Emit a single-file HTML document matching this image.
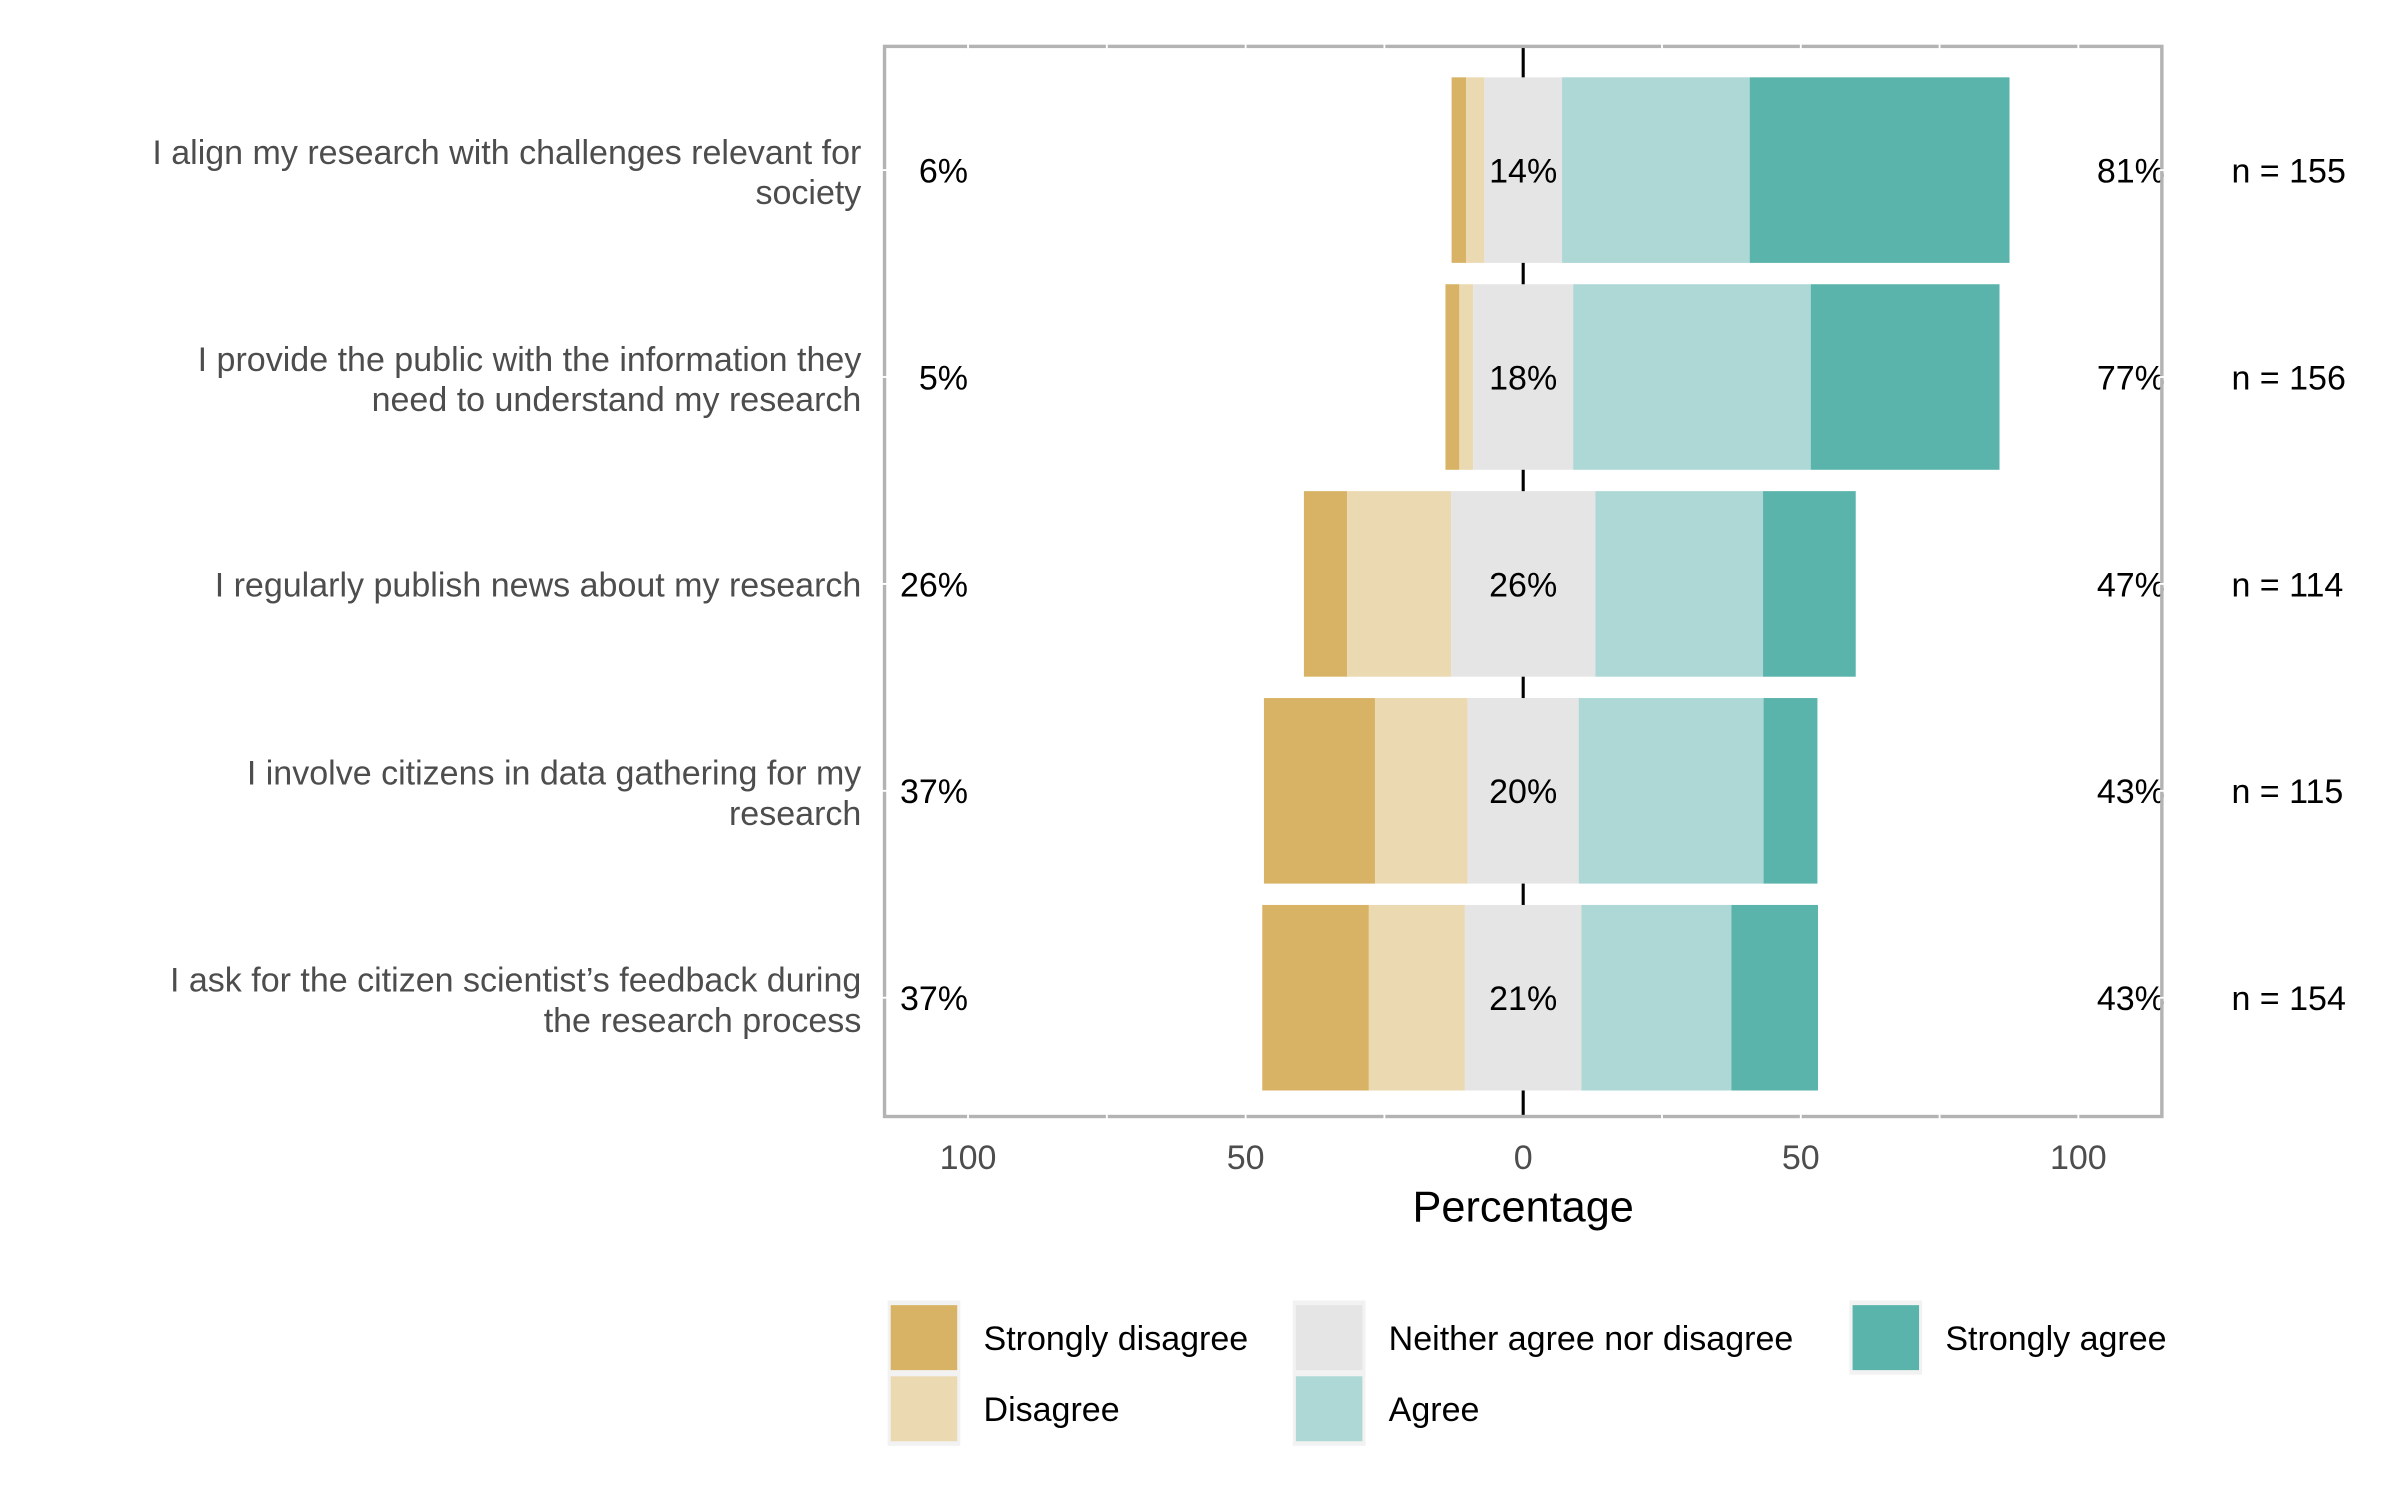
<!DOCTYPE html>
<html><head><meta charset="utf-8"><style>body{margin:0;background:#fff}svg{display:block}text{font-family:"Liberation Sans",Arial,sans-serif}</style></head>
<body>
<svg id="chart" width="2400" height="1500" viewBox="0 0 1552 970" xmlns="http://www.w3.org/2000/svg">
<rect width="1552" height="970" fill="#fff"/>
<g id="plot"></g>
</svg>
<script>
const categories = ["I align my research with challenges relevant for|society","I provide the public with the information they|need to understand my research","I regularly publish news about my research","I involve citizens in data gathering for my|research","I ask for the citizen scientist\u2019s feedback during|the research process"];
const stronglyDisagree = [2.6, 2.5, 7.8, 20, 19.2];
const disagree = [3.3, 2.5, 18.7, 16.7, 17.3];
const neutral = [14, 18, 26, 20, 21];
const agree = [33.8, 42.8, 30.2, 33.3, 27];
const stronglyAgree = [46.8, 34, 16.7, 9.7, 15.6];
const leftLabels = ["6%","5%","26%","37%","37%"];
const midLabels = ["14%","18%","26%","20%","21%"];
const rightLabels = ["81%","77%","47%","43%","43%"];
const nLabels = ["n = 155","n = 156","n = 114","n = 115","n = 154"];
const xTicks = [-100,-50,0,50,100];
const legendNames = ["Strongly disagree","Disagree","Neither agree nor disagree","Agree","Strongly agree"];
const colors = ["#d8b365","#ebd9b2","#e5e5e5","#add8d5","#5ab4ac"];

const NS="http://www.w3.org/2000/svg";
const g=document.getElementById('plot');
const X0=985, K=3.59, L=572, R=1398, T=30, B=722;
const xs=v=>X0+v*K;
const ys=i=>110+i*133.8;
function mk(tag,attrs,parent){const e=document.createElementNS(NS,tag);for(const k in attrs)e.setAttribute(k,attrs[k]);(parent||g).appendChild(e);return e;}

// center line
let cl=mk('line',{x1:X0,x2:X0,y1:T,y2:B,stroke:'#000','stroke-width':2});



const rowNames=['row-align','row-inform','row-publish','row-involve','row-feedback'];
categories.forEach((c,i)=>{
  const yc=ys(i), h=120;
  const left=-(stronglyDisagree[i]+disagree[i]+neutral[i]/2);
  const segs=[stronglyDisagree[i],disagree[i],neutral[i],agree[i],stronglyAgree[i]];
  const segNames=['strongly-disagree','disagree','neutral','agree','strongly-agree'];
  let cur=left;
  segs.forEach((v,j)=>{
    const r=mk('rect',{x:xs(cur),y:yc-h/2,width:v*K,height:h,fill:colors[j]});
    
    
    cur+=v;
  });
  const lines=c.split('|');
  const t=mk('text',{x:557,y:yc+(lines.length>1?-12+8:8),'text-anchor':'end','font-size':22,fill:'#4d4d4d'});
  
  
  lines.forEach((ln,k)=>{const s=mk('tspan',{x:557,dy:k?26:0},t);s.textContent=ln;});
  if(lines.length>1)t.setAttribute('y',yc-4);
  const a=mk('text',{x:626,y:yc+8,'text-anchor':'end','font-size':22,fill:'#000'});a.textContent=leftLabels[i];
  
  
  const m=mk('text',{x:X0,y:yc+8,'text-anchor':'middle','font-size':22,fill:'#000'});m.textContent=midLabels[i];
  
  
  const r2=mk('text',{x:1400,y:yc+8,'text-anchor':'end','font-size':22,fill:'#000'});r2.textContent=rightLabels[i];
  
  
  const n=mk('text',{x:1443,y:yc+8,'font-size':22,fill:'#000'});n.textContent=nLabels[i];
  
  
});

// panel border
let bd=mk('rect',{x:L,y:T,width:R-L,height:B-T,fill:'none',stroke:'#b3b3b3','stroke-width':2.2});


// white grid marks crossing border
for(let v=-100;v<=100;v+=25){ if(v===0)continue;
  mk('line',{x1:xs(v),x2:xs(v),y1:T-2,y2:T+2,stroke:'#fff','stroke-width':1.2});
  mk('line',{x1:xs(v),x2:xs(v),y1:B-2,y2:B+2,stroke:'#fff','stroke-width':1.2});
}
categories.forEach((c,i)=>{
  mk('line',{x1:L-2,x2:L+2,y1:ys(i),y2:ys(i),stroke:'#fff','stroke-width':1.2});
  mk('line',{x1:R-2,x2:R+2,y1:ys(i),y2:ys(i),stroke:'#fff','stroke-width':1.2});
});
xTicks.forEach(v=>{
  const t=mk('text',{x:xs(v),y:756,'text-anchor':'middle','font-size':22,fill:'#4d4d4d'});
  t.textContent=Math.abs(v);
  
  
});
let xt=mk('text',{x:X0,y:790,'text-anchor':'middle','font-size':28,fill:'#000'});xt.textContent='Percentage';



// legend
const lx=[575,575,837,837,1197], ly=[843,889,843,889,843];
legendNames.forEach((nm,j)=>{
  const kb=mk('rect',{x:lx[j]-1,y:ly[j]-2,width:47,height:48,fill:'#f2f2f2'});
  
  
  const k=mk('rect',{x:lx[j]+1,y:ly[j]+1,width:43,height:42,fill:colors[j]});
  
  
  const t=mk('text',{x:lx[j]+61,y:ly[j]+30,'font-size':22,fill:'#000'});t.textContent=nm;
  
  
});
</script>
</body></html>
